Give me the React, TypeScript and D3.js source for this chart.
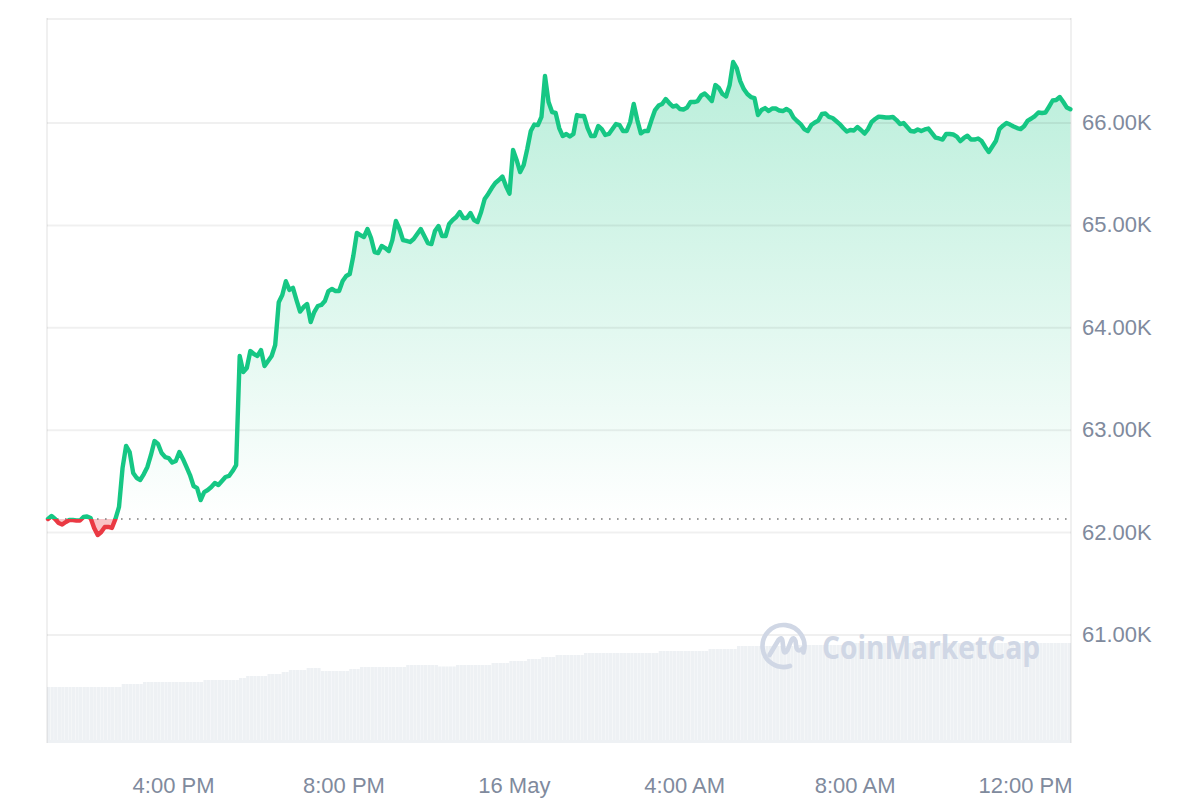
import React, { useEffect, useRef } from 'react';
import * as d3 from 'd3';

// BTC price in thousands of USD, one reading every 5 minutes
const prices: number[] = [
  62.133, 62.162, 62.133, 62.094, 62.079, 62.103, 62.123, 62.123, 62.118, 62.118, 62.152, 62.157,
  62.142, 62.045, 61.976, 62.006, 62.055, 62.055, 62.045, 62.133, 62.25, 62.631, 62.846, 62.787,
  62.582, 62.533, 62.514, 62.572, 62.641, 62.758, 62.894, 62.865, 62.777, 62.738, 62.728, 62.684,
  62.699, 62.787, 62.719, 62.641, 62.562, 62.455, 62.435, 62.318, 62.396, 62.416, 62.445, 62.484,
  62.465, 62.504, 62.543, 62.553, 62.601, 62.66, 63.725, 63.568, 63.607, 63.773, 63.744, 63.725,
  63.783, 63.627, 63.676, 63.725, 63.832, 64.25, 64.32, 64.455, 64.37, 64.39, 64.27, 64.159,
  64.203, 64.232, 64.057, 64.154, 64.213, 64.223, 64.262, 64.359, 64.379, 64.359, 64.359, 64.457,
  64.506, 64.525, 64.701, 64.926, 64.906, 64.887, 64.965, 64.877, 64.74, 64.73, 64.799, 64.779,
  64.75, 64.857, 65.043, 64.965, 64.857, 64.848, 64.838, 64.867, 64.916, 64.965, 64.896, 64.828,
  64.818, 64.945, 64.994, 64.896, 64.896, 65.014, 65.053, 65.082, 65.131, 65.072, 65.072, 65.121,
  65.053, 65.033, 65.131, 65.258, 65.307, 65.365, 65.414, 65.443, 65.478, 65.385, 65.31, 65.736,
  65.639, 65.521, 65.59, 65.746, 65.922, 65.985, 65.98, 66.059, 66.459, 66.205, 66.107, 66.098,
  65.951, 65.873, 65.893, 65.868, 65.893, 66.078, 66.068, 66.068, 65.951, 65.873, 65.873, 65.971,
  65.941, 65.883, 65.893, 65.941, 65.99, 65.98, 65.922, 65.922, 66.01, 66.186, 66.029, 65.899,
  65.922, 65.922, 66.029, 66.127, 66.171, 66.186, 66.234, 66.195, 66.161, 66.171, 66.137, 66.132,
  66.151, 66.205, 66.205, 66.215, 66.269, 66.288, 66.254, 66.215, 66.371, 66.342, 66.283, 66.259,
  66.371, 66.596, 66.537, 66.41, 66.332, 66.283, 66.254, 66.244, 66.078, 66.127, 66.146, 66.117,
  66.142, 66.142, 66.122, 66.117, 66.137, 66.117, 66.054, 66.02, 65.99, 65.941, 65.922, 65.98,
  66.005, 66.024, 66.088, 66.093, 66.059, 66.049, 66.02, 65.99, 65.951, 65.917, 65.932, 65.927,
  65.961, 65.932, 65.897, 65.941, 66.01, 66.039, 66.063, 66.059, 66.054, 66.054, 66.059, 66.029,
  65.99, 66, 65.961, 65.922, 65.917, 65.937, 65.922, 65.937, 65.946, 65.902, 65.858, 65.849,
  65.839, 65.893, 65.893, 65.888, 65.868, 65.824, 65.854, 65.876, 65.839, 65.839, 65.849, 65.824,
  65.766, 65.717, 65.77, 65.824, 65.941, 65.974, 66, 65.985, 65.966, 65.951, 65.941, 65.971,
  66.024, 66.044, 66.068, 66.103, 66.098, 66.103, 66.161, 66.22, 66.225, 66.254, 66.205, 66.151,
  66.134,
];

// 24h volume in $B, stepped: each level holds for volumeRuns[i] bars
const volumeLevels = [28, 29.5, 30.5, 31.5, 32.5, 33.5, 34.5, 35.5, 36.5, 37.5, 36, 37, 38, 39, 38.25, 39, 40, 41, 42, 43, 44, 45, 46, 47, 48.5, 49, 50];
const volumeRuns = [21, 6, 17, 10, 2, 6, 4, 2, 5, 4, 8, 3, 13, 9, 5, 10, 5, 5, 4, 4, 8, 21, 14, 8, 17, 14, 63];

const priceTicks = [61, 62, 63, 64, 65, 66];
const timeTicks = [
  new Date(Date.UTC(2024, 4, 15, 16)),
  new Date(Date.UTC(2024, 4, 15, 20)),
  new Date(Date.UTC(2024, 4, 16, 0)),
  new Date(Date.UTC(2024, 4, 16, 4)),
  new Date(Date.UTC(2024, 4, 16, 8)),
  new Date(Date.UTC(2024, 4, 16, 12)),
];
const startTime = Date.UTC(2024, 4, 15, 13, 2, 30);
const stepMs = 5 * 60 * 1000;
const openPrice = 62.133;

const GREEN = '#16c784';
const RED = '#ea3943';
const LABEL = '#808a9d';
const FONT = '"Liberation Sans", Arial, sans-serif';

const App: React.FC = () => {
  const svgRef = useRef<SVGSVGElement>(null);

  useEffect(() => {
    if (!svgRef.current) return;
    const svg = d3.select(svgRef.current);
    svg.selectAll('*').remove();

    const frame = { left: 47, right: 1071, top: 19, bottom: 743 };

    const x = d3.scaleUtc()
      .domain([new Date(startTime), new Date(startTime + stepMs * (prices.length - 1))])
      .range([48, 1070.4]);
    const y = d3.scaleLinear().domain([59.945, 67.016]).range([frame.bottom, frame.top]);

    const volumes = volumeLevels.flatMap((v, i) => d3.range(volumeRuns[i]).map(() => v));
    const xVol = d3.scaleBand<number>()
      .domain(d3.range(volumes.length))
      .range([frame.left, frame.right])
      .paddingInner(0.08);
    const yVol = d3.scaleLinear().domain([0, 50]).range([frame.bottom, 643]);

    const baseY = y(openPrice);
    const topY = y(d3.max(prices) as number);
    const px = (_: number, i: number) => x(new Date(startTime + i * stepMs));

    const defs = svg.append('defs');
    const grad = defs.append('linearGradient')
      .attr('id', 'upFill')
      .attr('gradientUnits', 'userSpaceOnUse')
      .attr('x1', 0).attr('x2', 0).attr('y1', topY).attr('y2', baseY);
    grad.append('stop').attr('offset', 0).attr('stop-color', GREEN).attr('stop-opacity', 0.3);
    grad.append('stop').attr('offset', 1).attr('stop-color', GREEN).attr('stop-opacity', 0);
    defs.append('clipPath').attr('id', 'above').append('rect')
      .attr('x', 0).attr('y', 0).attr('width', 1200).attr('height', baseY);
    defs.append('clipPath').attr('id', 'below').append('rect')
      .attr('x', 0).attr('y', baseY).attr('width', 1200).attr('height', 800 - baseY);

    // volume bars
    svg.append('g').selectAll('rect')
      .data(volumes)
      .enter().append('rect')
      .attr('x', (_, i) => xVol(i) as number)
      .attr('y', d => yVol(d))
      .attr('width', xVol.bandwidth())
      .attr('height', d => frame.bottom - yVol(d))
      .attr('fill', '#eef1f4');
    svg.append('rect')
      .attr('x', frame.left).attr('y', frame.bottom - 3)
      .attr('width', frame.right - frame.left).attr('height', 3)
      .attr('fill', '#eef1f4');

    // price area, split at the opening price
    const area = d3.area<number>().x(px).y0(baseY).y1(d => y(d));
    svg.append('path').datum(prices).attr('d', area)
      .attr('fill', 'url(#upFill)').attr('clip-path', 'url(#above)');
    svg.append('path').datum(prices).attr('d', area)
      .attr('fill', RED).attr('fill-opacity', 0.3).attr('clip-path', 'url(#below)');

    // grid and frame
    const grid = svg.append('g').attr('stroke', '#000').attr('stroke-opacity', 0.06).attr('stroke-width', 2);
    grid.selectAll('line.grid')
      .data(priceTicks)
      .enter().append('line')
      .attr('class', 'grid')
      .attr('x1', frame.left).attr('x2', frame.right)
      .attr('y1', d => y(d)).attr('y2', d => y(d));
    grid.append('line').attr('x1', frame.left).attr('x2', frame.right).attr('y1', frame.top).attr('y2', frame.top);
    grid.append('line').attr('x1', frame.left).attr('x2', frame.left).attr('y1', frame.top - 1).attr('y2', frame.bottom);
    grid.append('line').attr('x1', frame.right).attr('x2', frame.right).attr('y1', frame.top - 1).attr('y2', frame.bottom);

    // watermark
    const mark = svg.append('g').attr('fill', 'none').attr('stroke', '#d0d7e5');
    const logo = mark.append('g').attr('transform', 'translate(783.5,646)')
      .attr('stroke-width', 4.6).attr('stroke-linecap', 'round').attr('stroke-linejoin', 'round');
    logo.append('path').attr('d', d3.arc()({
      innerRadius: 21,
      outerRadius: 21,
      startAngle: Math.PI * 0.9,
      endAngle: Math.PI * 2.6,
    } as any) as string);
    logo.append('path').attr('d', 'M-14,9 L-5,-6 Q-2,-10 -1,-5 L0,4 Q1,9 4,4 L8,-6 Q10,-10 12,-5 L13,2 Q15,7 20,2');
    svg.append('text')
      .attr('x', 822).attr('y', 659)
      .attr('font-family', '"Open Sans", sans-serif')
      .attr('font-size', 32).attr('font-weight', 700)
      .attr('textLength', 218)
      .attr('lengthAdjust', 'spacingAndGlyphs')
      .attr('fill', '#d0d7e5')
      .text('CoinMarketCap');

    // opening price reference
    svg.append('line')
      .attr('x1', 49).attr('x2', 1070)
      .attr('y1', baseY).attr('y2', baseY)
      .attr('stroke', '#7d7d7d').attr('stroke-width', 1.6)
      .attr('stroke-dasharray', '1.6 6.4');

    // price line, green above the open and red below
    const line = d3.line<number>().x(px).y(d => y(d));
    [{ color: GREEN, clip: 'above' }, { color: RED, clip: 'below' }].forEach(s => {
      svg.append('path').datum(prices)
        .attr('d', line)
        .attr('fill', 'none')
        .attr('stroke', s.color)
        .attr('stroke-width', 4.4)
        .attr('stroke-linejoin', 'round')
        .attr('stroke-linecap', 'round')
        .attr('clip-path', `url(#${s.clip})`);
    });

    // axes
    const fmtHour = d3.utcFormat('%-I:%M %p');
    const fmtDay = d3.utcFormat('%-d %b');
    const xAxis = svg.append('g')
      .attr('transform', 'translate(-1,771.5)')
      .call(d3.axisBottom(x)
        .tickValues(timeTicks)
        .tickSize(0)
        .tickPadding(6)
        .tickFormat((d: any) => (d.getUTCHours() === 0 ? fmtDay(d) : fmtHour(d))));
    const yAxis = svg.append('g')
      .attr('transform', 'translate(1071,-0.5)')
      .call(d3.axisRight(y)
        .tickValues(priceTicks)
        .tickSize(0)
        .tickPadding(11)
        .tickFormat((d: any) => `${d3.format('.2f')(d)}K`));
    [xAxis, yAxis].forEach(a => {
      a.select('.domain').remove();
      a.selectAll('text')
        .attr('font-family', FONT)
        .attr('font-size', 22)
        .attr('fill', LABEL);
    });
  }, []);

  return (
    <svg
      ref={svgRef}
      width={1200}
      height={800}
      style={{ position: 'fixed', left: 0, top: 0, background: '#fff' }}
    />
  );
};

export default App;
